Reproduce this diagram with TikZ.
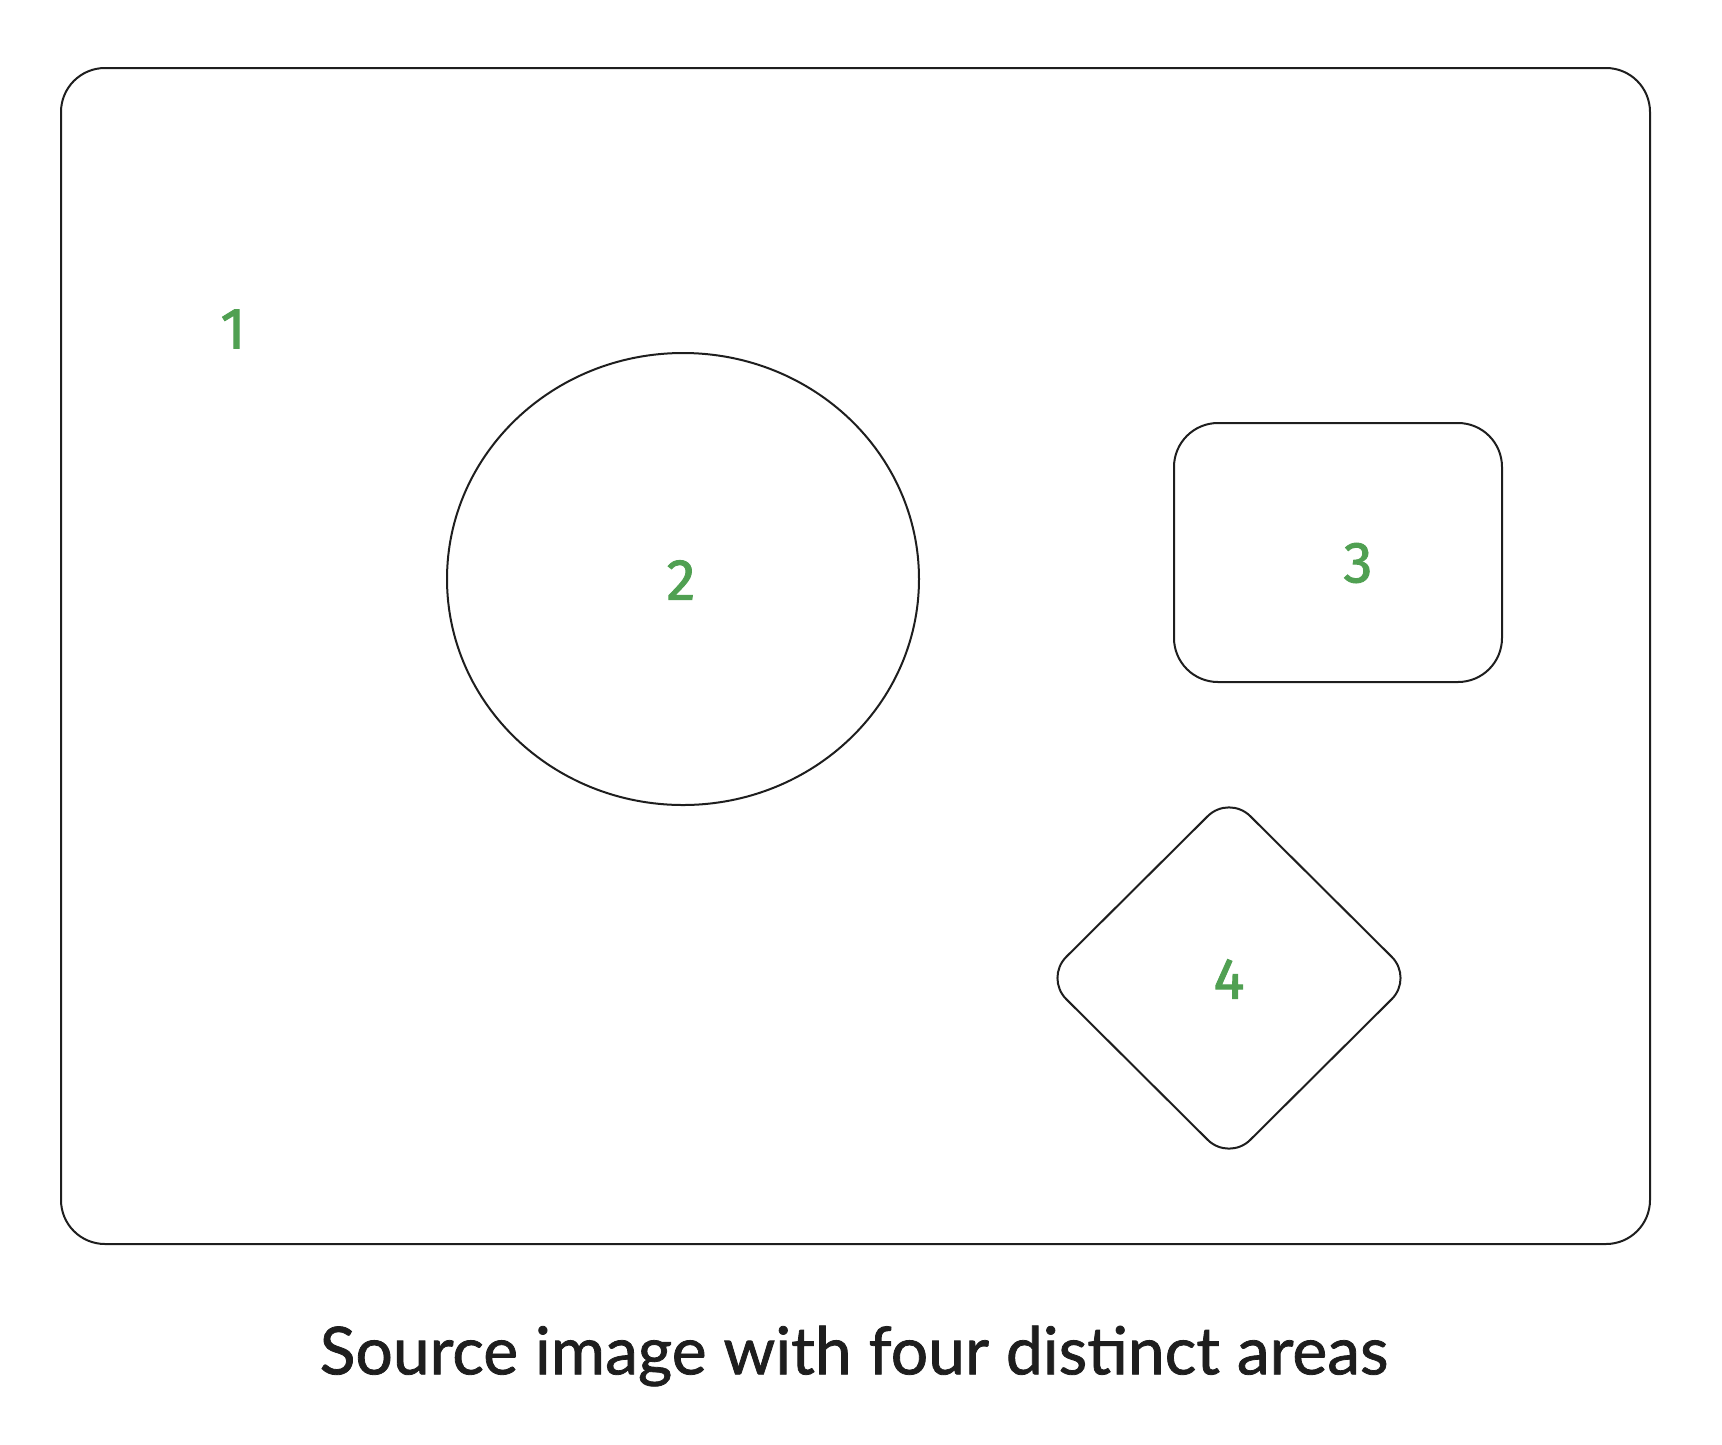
\documentclass[tikz,border=0pt]{standalone}
\usepackage{fontspec}
\setmainfont{Fira Sans}
\newfontfamily\digitfont{Fira Sans}[FakeBold=1.6]
\newfontfamily\capfont{Lato}[FakeBold=1.2]
\definecolor{areagreen}{RGB}{80,160,82}
\definecolor{ink}{RGB}{30,30,30}
\tikzset{
  sketch/.style={draw=ink, line width=2pt, line join=round},
  area/.style={text=areagreen, font=\digitfont\fontsize{58}{58}\selectfont, inner sep=0pt},
}

\begin{document}
\begin{tikzpicture}[x=1pt, y=-1pt]
\useasboundingbox (0,0) rectangle (1722,1444);
\coordinate (frameNW) at (61,68);
\coordinate (frameSE) at (1650,1244);
\coordinate (discC) at (683,579);
\coordinate (boxNW) at (1174,423);
\coordinate (boxSE) at (1502,682);
\coordinate (gemN) at (1229,795);
\coordinate (gemE) at (1413,978);
\coordinate (gemS) at (1229,1161);
\coordinate (gemW) at (1045,978);
\draw[sketch, rounded corners=44] (frameNW) rectangle (frameSE);
\draw[sketch] (discC) ellipse [x radius=236, y radius=226];
\draw[sketch, rounded corners=44] (boxNW) rectangle (boxSE);
\draw[sketch, rounded corners=30] (gemN) -- (gemE) -- (gemS) -- (gemW) -- cycle;
\node[area] (one) at (233,329) {1};
\node[area] (two) at (681,580) {2};
\node[area] (three) at (1358,563) {3};
\node[area] (four) at (1229,979) {4};
\node[text=ink, inner sep=0pt, font=\capfont\fontsize{66}{66}\selectfont] (caption) at (854,1356) {Source image with four distinct areas};
\end{tikzpicture}
\end{document}
